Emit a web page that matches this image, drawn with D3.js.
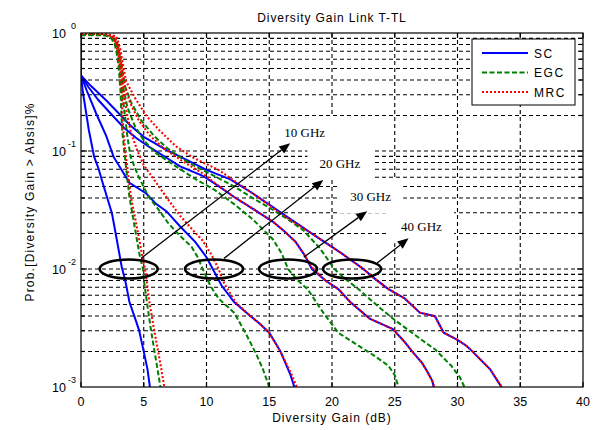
<!DOCTYPE html>
<html><head><meta charset="utf-8">
<script src="https://cdn.jsdelivr.net/npm/d3@7"></script>
<style>body{margin:0;background:#fff}</style>
</head><body>
<svg id="c" width="610" height="430"></svg>
<script>
const title = "Diversity Gain Link T-TL";
const xLabel = "Diversity Gain (dB)";
const yLabel = "Prob.[Diversity Gain > Absis]%";
const xTicks = [0,5,10,15,20,25,30,35,40];
const yTickExponents = [0,-1,-2,-3];
const seriesNames = ["SC","EGC","MRC"];
const frequencyLabels = ["10 GHz","20 GHz","30 GHz","40 GHz"];

// points: [diversity gain (dB), log10(probability)]
const sc10 = [[0,0],[0,-0.36],[0.15,-0.5],[0.62,-0.82],[1.05,-1.05],[1.4,-1.15],[1.7,-1.26],[2.1,-1.4],[2.47,-1.53],[2.85,-1.75],[3.24,-1.98],[3.55,-2.11],[3.86,-2.28],[4.25,-2.4],[4.63,-2.52],[5.0,-2.7],[5.3,-2.85],[5.49,-3.0]];
const sc20 = [[0,0],[0,-0.36],[0.5,-0.5],[1.2,-0.68],[2.0,-0.87],[2.6,-1.05],[3.86,-1.27],[5.2,-1.36],[6.0,-1.45],[6.8,-1.51],[7.9,-1.64],[9.1,-1.77],[10.0,-1.9],[10.5,-2.0],[11.2,-2.14],[12.2,-2.28],[13.4,-2.39],[14.2,-2.46],[15.0,-2.54],[15.9,-2.7],[16.7,-2.9],[17.0,-3.0]];
const sc30 = [[0,0],[0,-0.36],[0.6,-0.46],[1.4,-0.57],[2.6,-0.71],[3.4,-0.8],[4.4,-0.89],[5.5,-0.97],[7.0,-1.07],[7.9,-1.13],[9.7,-1.21],[11.0,-1.3],[12.2,-1.39],[13.7,-1.49],[15.3,-1.6],[16.2,-1.68],[17.1,-1.77],[17.8,-1.88],[18.4,-2.0],[19.5,-2.1],[20.5,-2.17],[21.45,-2.28],[23.0,-2.42],[24.85,-2.51],[25.8,-2.62],[26.4,-2.7],[27.2,-2.8],[27.6,-2.87],[28.0,-2.95],[28.1,-3.0]];
const sc40 = [[0,0],[0,-0.36],[0.8,-0.45],[2.0,-0.57],[3.0,-0.68],[3.9,-0.78],[5.0,-0.88],[6.8,-0.99],[8.5,-1.08],[10.0,-1.16],[11.9,-1.24],[13.7,-1.36],[15.9,-1.52],[18.4,-1.7],[20.8,-1.87],[22.5,-2.0],[23.5,-2.09],[24.5,-2.17],[25.8,-2.25],[27.0,-2.37],[28.2,-2.4],[28.9,-2.54],[30.0,-2.6],[30.7,-2.65],[31.2,-2.7],[32.6,-2.85],[33.2,-2.95],[33.5,-3.0]];

const egc10 = [[0,-0.02],[1,-0.01],[2,-0.02],[2.4,-0.04],[2.7,-0.1],[2.9,-0.2],[3.05,-0.35],[3.15,-0.5],[3.22,-0.7],[3.3,-0.85],[3.45,-1.0],[3.6,-1.15],[3.86,-1.39],[4.32,-1.67],[4.7,-1.9],[4.94,-2.0],[5.03,-2.11],[5.25,-2.28],[5.55,-2.5],[5.86,-2.7],[6.1,-2.85],[6.33,-3.0]];
const egc20 = [[0,-0.02],[1,-0.015],[2,-0.02],[2.5,-0.04],[2.8,-0.11],[3.0,-0.22],[3.15,-0.36],[3.3,-0.52],[3.5,-0.7],[3.7,-0.88],[3.95,-1.05],[4.6,-1.22],[5.4,-1.39],[6.2,-1.5],[6.94,-1.61],[7.9,-1.72],[8.8,-1.81],[9.3,-1.9],[9.7,-2.0],[10.3,-2.14],[10.96,-2.25],[12.2,-2.37],[13.1,-2.54],[14.0,-2.73],[14.5,-2.85],[15.0,-3.0]];
const egc30 = [[0,-0.015],[1,-0.02],[2,-0.02],[2.6,-0.05],[2.9,-0.12],[3.1,-0.24],[3.25,-0.36],[3.4,-0.48],[3.7,-0.63],[4.3,-0.79],[5.0,-0.91],[6.0,-1.02],[7.56,-1.13],[9.0,-1.23],[10.65,-1.33],[12.2,-1.45],[13.7,-1.58],[15.3,-1.75],[16.0,-1.87],[16.5,-2.0],[17.3,-2.1],[18.05,-2.17],[19.3,-2.37],[20.5,-2.54],[22.1,-2.65],[23.3,-2.73],[24.5,-2.82],[25.0,-2.9],[25.3,-3.0]];
const egc40 = [[0,-0.02],[1,-0.01],[2,-0.02],[2.7,-0.05],[3.0,-0.14],[3.2,-0.26],[3.35,-0.36],[3.5,-0.45],[4.0,-0.59],[4.8,-0.74],[5.8,-0.87],[6.8,-0.97],[8.0,-1.06],[9.1,-1.13],[10.6,-1.21],[12.2,-1.3],[13.7,-1.4],[15.3,-1.5],[16.5,-1.58],[17.7,-1.67],[19.0,-1.82],[20.2,-2.0],[21.0,-2.08],[22.1,-2.17],[23.6,-2.31],[24.85,-2.42],[27.0,-2.59],[28.2,-2.68],[29.5,-2.82],[30.2,-2.92],[30.55,-3.0]];

const mrc10 = [[0,0],[1,-0.005],[2,-0.01],[2.5,-0.03],[2.8,-0.09],[3.0,-0.2],[3.15,-0.35],[3.25,-0.5],[3.3,-0.7],[3.4,-0.85],[3.52,-1.0],[3.7,-1.15],[3.98,-1.39],[4.5,-1.67],[4.9,-1.9],[5.1,-2.0],[5.25,-2.11],[5.45,-2.28],[5.8,-2.5],[6.15,-2.7],[6.4,-2.85],[6.64,-3.0]];
const mrc20 = [[0,-0.005],[1,-0.005],[2,-0.01],[2.6,-0.03],[2.9,-0.1],[3.1,-0.22],[3.25,-0.36],[3.4,-0.5],[3.65,-0.68],[4.0,-0.85],[4.5,-1.0],[5.0,-1.12],[6.0,-1.27],[7.0,-1.42],[7.9,-1.55],[9.0,-1.68],[9.7,-1.76],[10.4,-1.88],[10.96,-2.0],[11.4,-2.12],[12.3,-2.28],[13.4,-2.39],[14.2,-2.46],[15.0,-2.54],[15.9,-2.7],[16.8,-2.9],[17.2,-3.0]];
const mrc30 = [[0,-0.01],[1,0],[2,-0.01],[2.7,-0.03],[3.0,-0.12],[3.2,-0.24],[3.35,-0.35],[3.5,-0.45],[3.9,-0.59],[4.6,-0.74],[5.5,-0.87],[6.5,-0.97],[8.0,-1.08],[9.7,-1.19],[11.0,-1.3],[12.2,-1.39],[13.7,-1.49],[15.3,-1.6],[16.2,-1.68],[17.1,-1.77],[17.8,-1.88],[18.5,-2.0],[19.5,-2.1],[20.5,-2.17],[21.45,-2.28],[23.0,-2.42],[24.85,-2.51],[25.8,-2.62],[26.4,-2.7],[27.2,-2.8],[27.6,-2.87],[28.0,-2.95],[28.15,-3.0]];
const mrc40 = [[0,0],[1,-0.005],[2,-0.005],[2.8,-0.03],[3.1,-0.12],[3.3,-0.24],[3.45,-0.33],[3.6,-0.41],[4.3,-0.55],[5.2,-0.7],[6.2,-0.82],[7.56,-0.96],[9.0,-1.06],[10.96,-1.16],[12.3,-1.26],[13.7,-1.36],[15.9,-1.53],[18.4,-1.7],[20.8,-1.87],[22.5,-2.0],[23.5,-2.09],[24.5,-2.17],[25.8,-2.25],[27.0,-2.37],[28.2,-2.4],[28.9,-2.54],[30.0,-2.6],[30.7,-2.65],[31.2,-2.7],[32.6,-2.85],[33.2,-2.95],[33.55,-3.0]];

// annotations (data units: dB, log10 P)
const ellipseCenters = [[3.8,-2],[10.6,-2],[16.5,-2],[21.6,-2]];
const arrowStarts = [[4.78,-1.91],[11.4,-1.91],[17.75,-1.9],[23.6,-1.95]];
const arrowEnds = [[16.67,-0.935],[19.3,-1.246],[22.8,-1.51],[26.1,-1.74]];
const labelPositions = [[16.2,-0.885],[19.0,-1.144],[21.45,-1.424],[25.5,-1.68]];

const W = 610, H = 430;
const M = {left:81, right:583, top:33, bottom:387};
const svg = d3.select("#c");
const x = d3.scaleLinear().domain([0,40]).range([M.left, M.right]);
const y = d3.scaleLog().domain([1e-3, 1]).range([M.bottom, M.top]);
const py = v => y(Math.pow(10, v));

svg.append("rect").attr("width",W).attr("height",H).attr("fill","#fff");
svg.append("defs").append("clipPath").attr("id","clip").append("rect")
  .attr("x",M.left).attr("y",M.top).attr("width",M.right-M.left).attr("height",M.bottom-M.top);

// grid
const grid = svg.append("g").attr("stroke","#000").attr("stroke-width",1.1).attr("stroke-dasharray","4,3");
xTicks.slice(1,-1).forEach(t => grid.append("line").attr("x1",x(t)).attr("x2",x(t)).attr("y1",M.top).attr("y2",M.bottom));
const minorVals = [];
for (let e=-3; e<0; e++) for (let k=1; k<=9; k++) { const v = k*Math.pow(10,e); if (v>1e-3) minorVals.push(v); }
minorVals.forEach(v => grid.append("line").attr("x1",M.left).attr("x2",M.right).attr("y1",y(v)).attr("y2",y(v)));

const labelFont = 13;
const lblBoxes = svg.append("g");

// curves
const line = d3.line().x(d => x(d[0])).y(d => py(d[1]));
const curveG = svg.append("g").attr("clip-path","url(#clip)").attr("fill","none");
const styles = {
  SC: {stroke:"#0000ff", width:2, dash:null},
  EGC:{stroke:"#008000", width:2, dash:"5,2.5"},
  MRC:{stroke:"#ff0000", width:2.1, dash:"2,2"}
};
const groups = {SC:[sc10,sc20,sc30,sc40], EGC:[egc10,egc20,egc30,egc40], MRC:[mrc10,mrc20,mrc30,mrc40]};

const annot = svg.append("g");
const texts = labelPositions.map((p,i) => annot.append("text")
  .attr("x", x(p[0])).attr("y", py(p[1]))
  .attr("font-family","'Liberation Serif', 'Times New Roman', serif")
  .attr("font-size", labelFont).attr("fill","#000").text(frequencyLabels[i]));
texts.forEach(t => {
  const b = t.node().getBBox();
  lblBoxes.append("rect").attr("x", b.x-12).attr("y", b.y-9).attr("width", b.width+24).attr("height", b.height+18).attr("fill","#fff");
});

seriesNames.forEach(s => {
  const st = styles[s];
  groups[s].forEach(d => {
    curveG.append("path").attr("d", line(d)).attr("stroke", st.stroke)
      .attr("stroke-width", st.width).attr("stroke-dasharray", st.dash);
  });
});

// ellipses
const ell = svg.append("g").attr("fill","none").attr("stroke","#000").attr("stroke-width",2.6);
ellipseCenters.forEach(c => ell.append("ellipse").attr("cx", x(c[0])).attr("cy", py(c[1])).attr("rx",29).attr("ry",9.5));

// arrows
const arr = svg.append("g");
arrowStarts.forEach((s,i) => {
  const x1 = x(s[0]), y1 = py(s[1]), x2 = x(arrowEnds[i][0]), y2 = py(arrowEnds[i][1]);
  const a = Math.atan2(y2-y1, x2-x1), L = 11, Wd = 4.5;
  const bx = x2 - L*Math.cos(a), by = y2 - L*Math.sin(a);
  arr.append("line").attr("x1",x1).attr("y1",y1).attr("x2",bx).attr("y2",by).attr("stroke","#000").attr("stroke-width",1.3);
  arr.append("path").attr("d", `M${x2},${y2}L${bx - Wd*Math.sin(a)},${by + Wd*Math.cos(a)}L${bx + Wd*Math.sin(a)},${by - Wd*Math.cos(a)}Z`).attr("fill","#000");
});
annot.raise();

// axes box and ticks
const ax = svg.append("g").attr("stroke","#000").attr("stroke-width",1.2);
ax.append("rect").attr("x",M.left).attr("y",M.top).attr("width",M.right-M.left).attr("height",M.bottom-M.top).attr("fill","none");
xTicks.forEach(t => {
  ax.append("line").attr("x1",x(t)).attr("x2",x(t)).attr("y1",M.bottom).attr("y2",M.bottom-5);
  ax.append("line").attr("x1",x(t)).attr("x2",x(t)).attr("y1",M.top).attr("y2",M.top+5);
});
minorVals.forEach(v => {
  const len = (Math.abs(Math.log10(v) - Math.round(Math.log10(v))) < 1e-9) ? 6 : 4;
  ax.append("line").attr("x1",M.left).attr("x2",M.left+len).attr("y1",y(v)).attr("y2",y(v));
  ax.append("line").attr("x1",M.right).attr("x2",M.right-len).attr("y1",y(v)).attr("y2",y(v));
});

const sans = "Arial, 'Liberation Sans', Helvetica, sans-serif";
const tl = svg.append("g").attr("font-family", sans).attr("fill","#000");
xTicks.forEach(t => tl.append("text").attr("x", x(t)).attr("y", M.bottom+19).attr("text-anchor","middle").attr("font-size",12.5).text(t));
yTickExponents.forEach(e => {
  const yy = y(Math.pow(10,e));
  tl.append("text").attr("x", 66).attr("y", yy+5).attr("text-anchor","end").attr("font-size",12.5).text("10");
  tl.append("text").attr("x", 76).attr("y", yy-4).attr("text-anchor","end").attr("font-size",9).text(e);
});

tl.append("text").attr("x", 332).attr("y", 22).attr("text-anchor","middle").attr("font-size",12).attr("letter-spacing",0.9).text(title);
tl.append("text").attr("x", 332).attr("y", 422).attr("text-anchor","middle").attr("font-size",12).attr("letter-spacing",1).text(xLabel);
tl.append("text").attr("transform","translate(34,202) rotate(-90)").attr("text-anchor","middle").attr("font-size",12).attr("letter-spacing",1.2).text(yLabel);

// legend
const lg = svg.append("g");
lg.append("rect").attr("x",472).attr("y",39).attr("width",103).attr("height",66).attr("fill","#fff").attr("stroke","#000").attr("stroke-width",1);
seriesNames.forEach((s,i) => {
  const yy = 53 + i*19.5;
  const st = styles[s];
  lg.append("line").attr("x1",482).attr("x2",528).attr("y1",yy).attr("y2",yy).attr("stroke",st.stroke).attr("stroke-width",st.width).attr("stroke-dasharray",st.dash);
  lg.append("text").attr("x",534).attr("y",yy+4.5).attr("font-family",sans).attr("font-size",12).attr("letter-spacing",1.6).text(s);
});
</script>
</body></html>
